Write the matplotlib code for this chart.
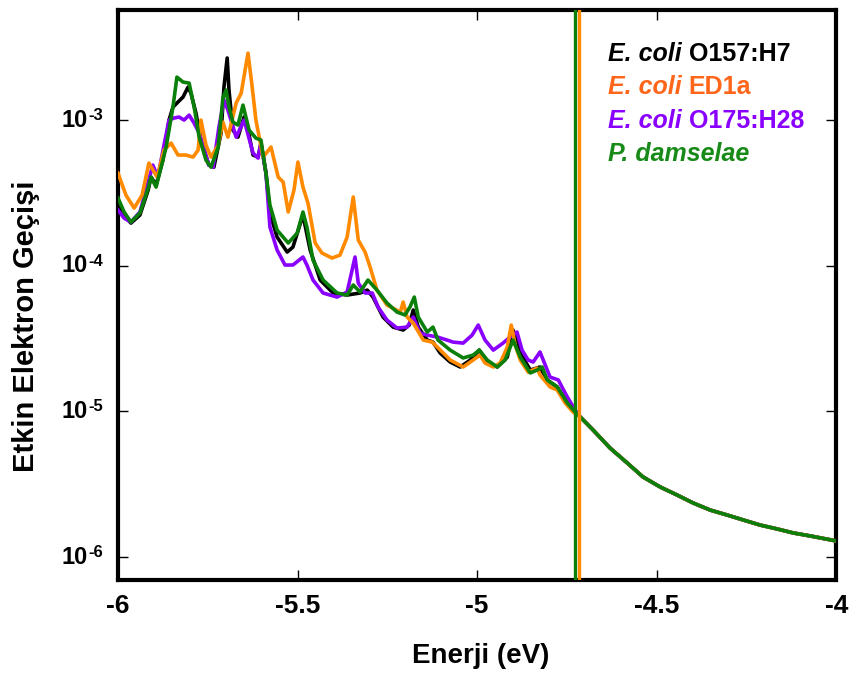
import matplotlib
matplotlib.use("Agg")
import matplotlib.pyplot as plt
import numpy as np

plt.rcParams['font.family'] = ['Liberation Sans', 'DejaVu Sans']
plt.rcParams['font.weight'] = 'bold'
plt.rcParams['axes.labelweight'] = 'bold'
plt.rcParams['axes.unicode_minus'] = False

# energies (eV) and log10 of the effective electron transmission
black_e = [-6.000, -5.983, -5.964, -5.939, -5.916, -5.908, -5.894, -5.875, -5.858, -5.847,
           -5.833, -5.819, -5.805, -5.797, -5.783, -5.769, -5.747, -5.733, -5.713, -5.705,
           -5.696, -5.691, -5.680, -5.666, -5.649, -5.635, -5.624, -5.610, -5.602, -5.588,
           -5.577, -5.557, -5.529, -5.513, -5.485, -5.465, -5.437, -5.401, -5.362, -5.326,
           -5.306, -5.290, -5.262, -5.234, -5.206, -5.189, -5.178, -5.164, -5.139, -5.123,
           -5.103, -5.075, -5.047, -5.019, -4.994, -4.972, -4.944, -4.916, -4.900, -4.880,
           -4.852, -4.825, -4.805, -4.777, -4.749, -4.727]
black_log = [-3.583, -3.659, -3.707, -3.652, -3.480, -3.391, -3.446, -3.275, -3.000, -2.911,
             -2.876, -2.842, -2.774, -2.815, -2.952, -3.137, -3.309, -3.323, -3.089, -2.774,
             -2.574, -2.794, -3.069, -3.117, -2.979, -3.103, -3.240, -3.254, -3.158, -3.364,
             -3.638, -3.803, -3.906, -3.872, -3.652, -3.892, -4.098, -4.187, -4.201, -4.187,
             -4.167, -4.215, -4.352, -4.421, -4.441, -4.407, -4.304, -4.421, -4.510, -4.524,
             -4.599, -4.661, -4.695, -4.647, -4.579, -4.661, -4.695, -4.627, -4.441, -4.599,
             -4.716, -4.695, -4.784, -4.832, -4.942, -5.004]

orange_e = [-6.000, -5.978, -5.955, -5.933, -5.914, -5.891, -5.872, -5.852, -5.833, -5.811,
            -5.791, -5.777, -5.769, -5.755, -5.741, -5.721, -5.708, -5.694, -5.671, -5.657,
            -5.638, -5.627, -5.616, -5.596, -5.574, -5.554, -5.540, -5.526, -5.510, -5.499,
            -5.485, -5.471, -5.451, -5.432, -5.404, -5.382, -5.362, -5.345, -5.331, -5.312,
            -5.298, -5.279, -5.251, -5.214, -5.206, -5.195, -5.178, -5.150, -5.125, -5.111,
            -5.075, -5.039, -5.011, -4.992, -4.978, -4.955, -4.936, -4.916, -4.905, -4.894,
            -4.880, -4.858, -4.833, -4.825, -4.797, -4.777, -4.755, -4.733]
orange_log = [-3.364, -3.515, -3.604, -3.515, -3.295, -3.391, -3.206, -3.158, -3.240, -3.240,
              -3.254, -3.206, -3.000, -3.172, -3.254, -3.172, -3.014, -3.117, -2.883, -2.815,
              -2.540, -2.760, -3.000, -3.254, -3.185, -3.391, -3.426, -3.631, -3.480, -3.288,
              -3.460, -3.570, -3.844, -3.913, -3.947, -3.927, -3.803, -3.528, -3.824, -3.906,
              -4.009, -4.167, -4.270, -4.318, -4.249, -4.352, -4.393, -4.510, -4.524, -4.558,
              -4.647, -4.695, -4.647, -4.613, -4.668, -4.695, -4.668, -4.558, -4.407, -4.544,
              -4.647, -4.730, -4.702, -4.750, -4.832, -4.853, -4.942, -5.004]

purple_e = [-6.000, -5.983, -5.964, -5.939, -5.916, -5.903, -5.889, -5.872, -5.858, -5.844,
            -5.830, -5.816, -5.802, -5.788, -5.774, -5.760, -5.747, -5.735, -5.719, -5.705,
            -5.694, -5.671, -5.649, -5.624, -5.610, -5.602, -5.588, -5.577, -5.557, -5.535,
            -5.513, -5.485, -5.474, -5.457, -5.429, -5.390, -5.362, -5.340, -5.331, -5.312,
            -5.292, -5.276, -5.251, -5.223, -5.195, -5.178, -5.159, -5.139, -5.111, -5.084,
            -5.067, -5.039, -5.014, -4.997, -4.978, -4.955, -4.928, -4.908, -4.889, -4.875,
            -4.858, -4.844, -4.825, -4.816, -4.797, -4.774, -4.749, -4.727]
purple_log = [-3.618, -3.673, -3.700, -3.631, -3.426, -3.309, -3.391, -3.172, -3.000, -2.986,
              -2.979, -3.000, -2.966, -3.021, -3.089, -3.206, -3.309, -3.323, -3.048, -2.863,
              -2.931, -3.117, -3.000, -3.226, -3.261, -3.158, -3.364, -3.734, -3.892, -3.995,
              -3.995, -3.940, -3.995, -4.098, -4.187, -4.215, -4.180, -3.940, -4.119, -4.187,
              -4.187, -4.283, -4.373, -4.428, -4.421, -4.352, -4.462, -4.476, -4.489, -4.510,
              -4.524, -4.531, -4.476, -4.407, -4.510, -4.579, -4.531, -4.489, -4.455, -4.579,
              -4.647, -4.661, -4.592, -4.647, -4.764, -4.784, -4.901, -4.990]

green_e = [-6.000, -5.983, -5.964, -5.939, -5.916, -5.908, -5.894, -5.866, -5.847, -5.836,
           -5.819, -5.802, -5.788, -5.774, -5.755, -5.741, -5.721, -5.708, -5.699, -5.691,
           -5.680, -5.666, -5.652, -5.635, -5.616, -5.602, -5.588, -5.577, -5.557, -5.526,
           -5.501, -5.485, -5.474, -5.457, -5.429, -5.390, -5.362, -5.345, -5.326, -5.304,
           -5.279, -5.251, -5.223, -5.201, -5.187, -5.175, -5.164, -5.139, -5.123, -5.109,
           -5.075, -5.039, -5.011, -4.994, -4.972, -4.944, -4.922, -4.900, -4.880, -4.852,
           -4.833, -4.819, -4.805, -4.777, -4.749, -4.727]
green_log = [-3.535, -3.631, -3.700, -3.638, -3.467, -3.391, -3.460, -3.185, -2.911, -2.705,
             -2.739, -2.746, -2.911, -3.117, -3.275, -3.323, -3.185, -2.849, -2.794, -2.911,
             -3.014, -3.034, -2.897, -3.069, -3.124, -3.137, -3.364, -3.583, -3.755, -3.844,
             -3.776, -3.631, -3.734, -3.961, -4.098, -4.187, -4.201, -4.132, -4.180, -4.098,
             -4.167, -4.256, -4.318, -4.338, -4.283, -4.215, -4.352, -4.455, -4.421, -4.510,
             -4.579, -4.633, -4.613, -4.579, -4.647, -4.695, -4.647, -4.510, -4.627, -4.736,
             -4.716, -4.695, -4.784, -4.832, -4.942, -5.004]

# above about -4.71 eV all four curves coincide
tail_e = [-4.713, -4.677, -4.630, -4.582, -4.538, -4.490, -4.443, -4.398, -4.351, -4.304,
          -4.259, -4.212, -4.164, -4.120, -4.072, -4.000]
tail_log = [-5.038, -5.128, -5.251, -5.354, -5.450, -5.519, -5.574, -5.629, -5.677, -5.711,
            -5.745, -5.780, -5.807, -5.834, -5.855, -5.889]

# Fermi levels
fermi_green = -4.727
fermi_orange = -4.716

x_ticks = [-6, -5.5, -5, -4.5, -4]
x_labels = ['-6', '-5.5', '-5', '-4.5', '-4']
y_ticks = [1e-6, 1e-5, 1e-4, 1e-3]
y_exps = ['-6', '-5', '-4', '-3']

c_black = '#000000'
c_orange = '#ff8a00'
c_purple = '#8a00ff'
c_green = '#0a800a'

fig = plt.figure(figsize=(8.49, 6.73), dpi=100)
ax = fig.add_axes([0.139, 0.138, 0.846, 0.847])

curves = [
    (black_e, black_log, c_black, 2),
    (purple_e, purple_log, c_purple, 3),
    (orange_e, orange_log, c_orange, 4),
    (green_e, green_log, c_green, 5),
]
for e, lg, col, z in curves:
    x = np.concatenate([e, tail_e])
    y = np.power(10.0, np.concatenate([lg, tail_log]))
    ax.plot(x, y, color=col, lw=2.6, zorder=z, solid_joinstyle='round')

ax.axvline(fermi_green, color=c_green, lw=2.4, zorder=6)
ax.axvline(fermi_orange, color=c_orange, lw=2.4, zorder=6)

ax.set_yscale('log')
ax.set_xlim(-6, -4)
ax.set_ylim(10 ** -6.158, 10 ** -2.245)
ax.set_xticks(x_ticks)
ax.set_xticklabels(x_labels)
ax.set_yticks(y_ticks)
ax.set_yticklabels([])
ax.minorticks_off()
ax.tick_params(direction='in', length=7, width=1, top=True, right=True)
ax.tick_params(axis='x', labelsize=19, pad=10)
for sp in ax.spines.values():
    sp.set_linewidth(3)

# y tick labels: "10" with a small raised exponent
for val, ex in zip(y_ticks, y_exps):
    ax.annotate('10', xy=(0, val), xycoords=('axes fraction', 'data'), xytext=(-21.5, 0),
                textcoords='offset points', ha='right', va='center', fontsize=17,
                fontweight='bold', annotation_clip=False)
    ax.annotate(ex, xy=(0, val), xycoords=('axes fraction', 'data'), xytext=(-21, 0),
                textcoords='offset points', ha='left', va='baseline', fontsize=12,
                fontweight='bold', annotation_clip=False)

ax.set_xlabel('Enerji (eV)', fontsize=20)
ax.xaxis.set_label_coords(0.5056, -0.1105)
ax.set_ylabel('Etkin Elektron Geçişi', fontsize=21)
ax.yaxis.set_label_coords(-0.108, 0.445)

# text-only legend at the upper right
legend_rows = [
    ('E. coli', 'O157:H7', c_black),
    ('E. coli', 'ED1a', '#ff661a'),
    ('E. coli', 'O175:H28', c_purple),
    ('P. damselae', '', '#178a17'),
]
for i, (ital, rest, col) in enumerate(legend_rows):
    t = ax.text(0.682, 0.9105 - i * 0.0585, ital, transform=ax.transAxes, color=col,
                fontsize=18, style='italic', fontweight='bold', va='baseline', zorder=10)
    if rest:
        ax.annotate(rest, xy=(1, 0), xycoords=t, xytext=(5, 0), textcoords='offset points',
                    color=col, fontsize=18, fontweight='bold', va='bottom', zorder=10)

fig.savefig('out.png', dpi=100)
